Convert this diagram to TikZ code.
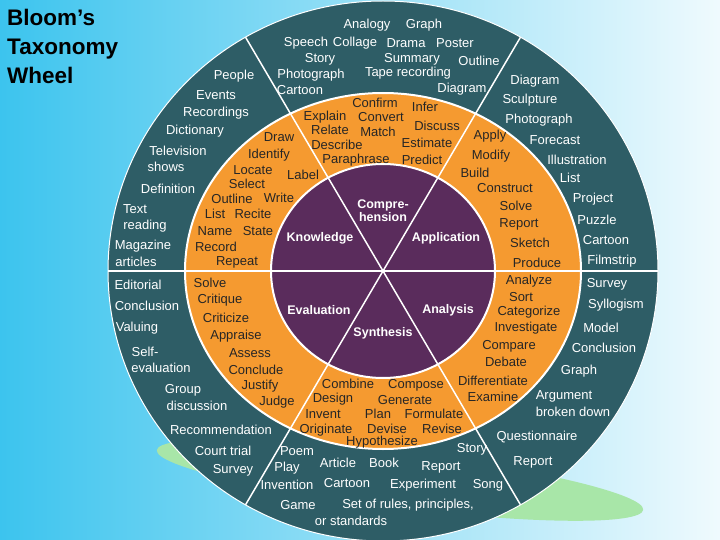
\documentclass[tikz,border=0pt]{standalone}
\usepackage{fontspec}
\setmainfont{Liberation Sans}
\begin{document}
\begin{tikzpicture}[x=1pt,y=-1pt,
  tw/.style={text=white,font=\fontsize{13}{13}\selectfont,inner sep=0pt},
  to/.style={text=black!85,font=\fontsize{13}{13}\selectfont,inner sep=0pt},
  tp/.style={text=white,font=\bfseries\fontsize{12.5}{13}\selectfont,inner sep=0pt,align=center},
  tt/.style={text=black,font=\bfseries\fontsize{22.5}{29}\selectfont,inner sep=0pt,align=left,anchor=north west}]
\definecolor{teal}{HTML}{2E5D66}
\definecolor{orng}{HTML}{F59A30}
\definecolor{purp}{HTML}{5A2C5C}
\definecolor{cy}{HTML}{3CC4EE}
\definecolor{grn}{HTML}{A8E6A8}
\useasboundingbox (0,0) rectangle (720,540);
\shade[left color=cy,right color=cy!8] (0,0) rectangle (720,540);
\fill[grn,rotate around={-7:(400,480)}] (400,480) ellipse [x radius=245,y radius=28];
\coordinate (c) at (383,271);
\fill[teal,draw=white,line width=1pt] (c) ellipse [x radius=275,y radius=270];
\fill[orng,draw=white,line width=2pt] (c) ellipse [x radius=198,y radius=178];
\fill[purp,draw=white,line width=2pt] (c) ellipse [x radius=112,y radius=107];
\foreach \a in {0,60,...,300} \draw[white,line width=1.5pt] (c) -- ++({275*cos(\a)},{270*sin(\a)});
\node[tt] (title) at (7,9) {Bloom’s\\Taxonomy\\Wheel};
\foreach \x/\y/\s [count=\i] in {
367/25/Analogy,424/25/Graph,306/43/Speech,355/43/Collage,406/43/Drama,455/43/Poster,
320/59/Story,412/59/Summary,479/61/Outline,234/76/People,311/75/Photograph,408/73/Tape recording,
300/90/Cartoon,462/89/Diagram,216/95/Events,216/113/Recordings,195/131/Dictionary,178/151/Television,
166/167/shows,168/189/Definition,135/209/Text,145/226/reading,143/246/Magazine,136/262/articles,
535/81/Diagram,530/100/Sculpture,539/120/Photograph,555/140/Forecast,577/160/Illustration,570/178/List,
593/199/Project,597/220/Puzzle,606/240/Cartoon,612/261/Filmstrip,607/284/Survey,616/305/Syllogism,
601/328/Model,604/348/Conclusion,579/371/Graph,564/396/Argument,573/412/broken down,537/437/Questionnaire,
533/462/Report,472/449/Story,138/285/Editorial,147/306/Conclusion,137/328/Valuing,145/352/Self-,
161/368/evaluation,183/390/Group,197/406/discussion,221/430/Recommendation,223/451/Court trial,233/470/Survey,
297/451/Poem,287/468/Play,287/485/Invention,298/505/Game,338/463/Article,384/463/Book,441/467/Report,
347/483/Cartoon,423/485/Experiment,488/485/Song,408/505/{Set of rules, principles,},351/521/or standards}
  \node[tw] (t\i) at (\x,\y) {\s};
\foreach \x/\y/\s [count=\i] in {
279/137/Draw,269/155/Identify,253/170/Locate,303/175/Label,247/184/Select,232/199/Outline,279/198/Write,
215/214/List,253/214/Recite,215/231/Name,258/231/State,216/247/Record,237/262/Repeat,
375/103/Confirm,425/107/Infer,325/117/Explain,381/117/Convert,330/130/Relate,378/132/Match,437/126/Discuss,
337/145/Describe,427/143/Estimate,356/160/Paraphrase,422/160/Predict,
490/136/Apply,491/156/Modify,475/173/Build,505/188/Construct,516/206/Solve,519/224/Report,530/243/Sketch,537/263/Produce,
529/281/Analyze,521/297/Sort,529/312/Categorize,526/328/Investigate,509/346/Compare,506/362/Debate,493/381/Differentiate,493/397/Examine,
348/384/Combine,416/385/Compose,333/399/Design,405/400/Generate,323/414/Invent,378/414/Plan,434/414/Formulate,
326/430/Originate,387/429/Devise,442/429/Revise,382/442/Hypothesize,
210/283/Solve,220/300/Critique,226/318/Criticize,236/336/Appraise,250/353/Assess,256/370/Conclude,260/386/Justify,277/402/Judge}
  \node[to] (o\i) at (\x,\y) {\s};
\node[tp] (comp) at (383,211) {Compre-\\hension};
\node[tp] (know) at (320,238) {Knowledge};
\node[tp] (appl) at (446,238) {Application};
\node[tp] (eval) at (319,310) {Evaluation};
\node[tp] (anal) at (448,310) {Analysis};
\node[tp] (synt) at (383,333) {Synthesis};
\end{tikzpicture}
\end{document}
